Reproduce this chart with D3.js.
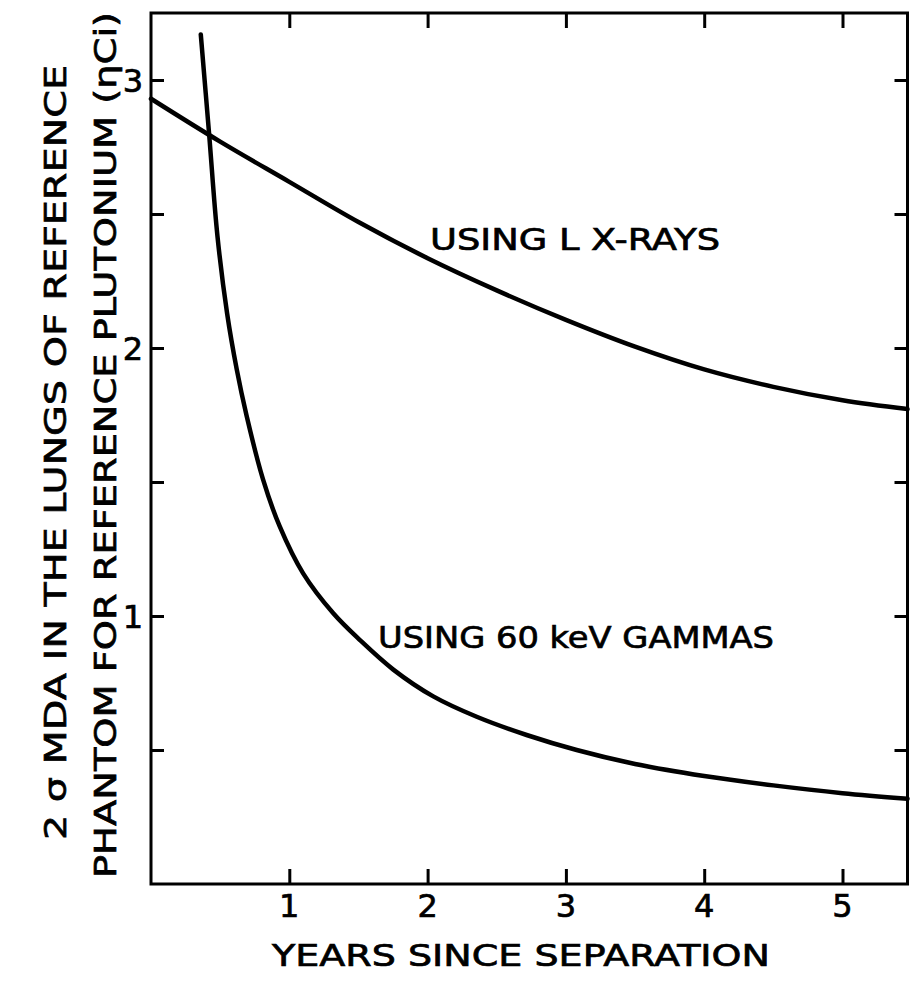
<!DOCTYPE html>
<html><head><meta charset="utf-8">
<script src="https://cdn.jsdelivr.net/npm/d3@7"></script>
<style>
html,body{margin:0;padding:0;background:#fff;}
text{font-family:"DejaVu Sans",sans-serif;fill:#000;stroke:#000;stroke-width:0.7px;}
</style></head>
<body>
<svg id="chart" width="912" height="981"></svg>
<script>
// ---- data ----
const xRayYears  = [0, 0.5, 1, 1.5, 2, 2.5, 3, 3.5, 4, 4.5, 5, 5.47];
const xRayValues = [2.93, 2.77, 2.62, 2.47, 2.335, 2.215, 2.105, 2.005, 1.92, 1.855, 1.805, 1.772];

const gammaYears  = [0.36, 0.42, 0.48, 0.55, 0.62, 0.69, 0.81, 0.93, 1.10, 1.318, 1.511, 1.752, 2.041, 2.355, 2.716, 3.078, 3.5, 4.0, 4.5, 5.0, 5.47];
const gammaValues = [3.17, 2.80, 2.42, 2.13, 1.92, 1.75, 1.51, 1.335, 1.159, 1.01, 0.91, 0.80, 0.70, 0.624, 0.556, 0.50, 0.448, 0.403, 0.368, 0.339, 0.318];

const xTickValues = [1, 2, 3, 4, 5];
const xTickLabels = ["1", "2", "3", "4", "5"];
const yTickValues = [0.5, 1, 1.5, 2, 2.5, 3];
const yLabelValues = [1, 2, 3];
const yLabelTexts  = ["1", "2", "3"];

const yTitleLine1 = "2 σ  MDA IN THE LUNGS OF REFERENCE";
const yTitleLine2 = "PHANTOM FOR REFERENCE  PLUTONIUM  (ηCi)";
const xTitle = "YEARS  SINCE  SEPARATION";
const seriesLabels = ["USING  L  X-RAYS", "USING  60  keV  GAMMAS"];

// ---- scales ----
const svg = d3.select("#chart");
const x = d3.scaleLinear().domain([0, 5.47]).range([151, 907.5]);
const y = d3.scaleLinear().domain([0, 3.25]).range([884, 13]);

const L = x.range()[0], R = x.range()[1], B = y.range()[0], T = y.range()[1];

// ---- frame ----
svg.append("rect").attr("x", L).attr("y", T).attr("width", R - L).attr("height", B - T)
  .attr("fill", "none").attr("stroke", "#000").attr("stroke-width", 3);

// ---- ticks via axes ----
function styleAxis(g){
  g.select(".domain").remove();
  g.selectAll(".tick line").attr("stroke", "#000").attr("stroke-width", 3);
  g.selectAll(".tick text").remove();
}
svg.append("g").attr("transform", `translate(0,${B})`)
  .call(d3.axisBottom(x).tickValues(xTickValues).tickSize(-15)).call(styleAxis);
svg.append("g").attr("transform", `translate(0,${T})`)
  .call(d3.axisTop(x).tickValues(xTickValues).tickSize(-15)).call(styleAxis);
svg.append("g").attr("transform", `translate(${L},0)`)
  .call(d3.axisLeft(y).tickValues(yTickValues).tickSize(-13)).call(styleAxis);
svg.append("g").attr("transform", `translate(${R},0)`)
  .call(d3.axisRight(y).tickValues(yTickValues).tickSize(-13)).call(styleAxis);

// ---- tick labels ----
svg.append("g").selectAll("text").data(xTickValues).join("text")
  .attr("x", d => x(d)).attr("y", 917)
  .attr("text-anchor", "middle").attr("font-size", 32)
  .text((d, i) => xTickLabels[i]);
svg.append("g").selectAll("text").data(yLabelValues).join("text")
  .attr("x", 133).attr("y", d => y(d) + 12)
  .attr("text-anchor", "middle").attr("font-size", 32)
  .text((d, i) => yLabelTexts[i]);

// ---- curves ----
const line = d3.line().x(d => x(d[0])).y(d => y(d[1])).curve(d3.curveCatmullRom.alpha(0.5));
svg.append("path").datum(xRayYears.map((t, i) => [t, xRayValues[i]]))
  .attr("d", line).attr("fill", "none").attr("stroke", "#000")
  .attr("stroke-width", 4.5).attr("stroke-linecap", "round");
svg.append("path").datum(gammaYears.map((t, i) => [t, gammaValues[i]]))
  .attr("d", line).attr("fill", "none").attr("stroke", "#000")
  .attr("stroke-width", 4.5).attr("stroke-linecap", "round");

// ---- series labels ----
svg.append("text").attr("x", 430).attr("y", 250).attr("font-size", 30)
  .attr("textLength", 290).attr("lengthAdjust", "spacingAndGlyphs").text(seriesLabels[0]);
svg.append("text").attr("x", 378).attr("y", 648).attr("font-size", 30)
  .attr("textLength", 396).attr("lengthAdjust", "spacingAndGlyphs").text(seriesLabels[1]);

// ---- axis titles ----
svg.append("text").attr("x", 272).attr("y", 966).attr("font-size", 30)
  .attr("textLength", 498).attr("lengthAdjust", "spacingAndGlyphs").text(xTitle);

svg.append("text").attr("transform", "translate(66,840) rotate(-90)")
  .attr("font-size", 31).attr("textLength", 775).attr("lengthAdjust", "spacingAndGlyphs")
  .text(yTitleLine1);
svg.append("text").attr("transform", "translate(116,878) rotate(-90)")
  .attr("font-size", 31).attr("textLength", 866).attr("lengthAdjust", "spacingAndGlyphs")
  .text(yTitleLine2);
</script>
</body></html>
